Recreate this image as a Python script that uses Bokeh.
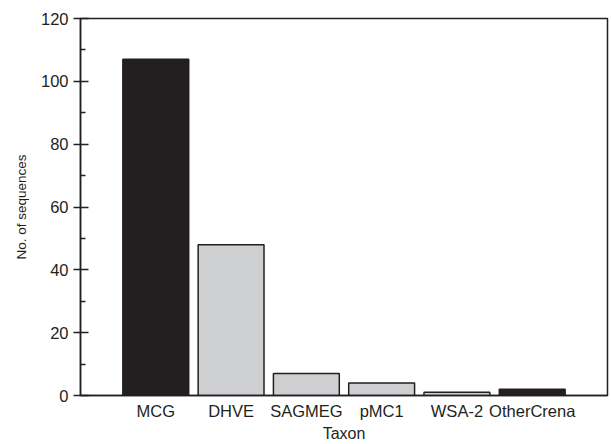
from bokeh.plotting import figure
from bokeh.models import Range1d, FixedTicker, ColumnDataSource
from bokeh.embed import file_html
from bokeh.resources import INLINE

taxa = ["MCG", "DHVE", "SAGMEG", "pMC1", "WSA-2", "OtherCrena"]
counts = [107, 48, 7, 4, 1, 2]
bar_colors = ["#231f20", "#cdcfd0", "#cdcfd0", "#cdcfd0", "#cdcfd0", "#231f20"]
y_ticks = [0, 20, 40, 60, 80, 100, 120]
y_minor = [10, 30, 50, 70, 90, 110]

pos = list(range(1, len(taxa) + 1))
src = ColumnDataSource(dict(x=pos, top=counts, color=bar_colors))

p = figure(width=611, height=444, output_backend="svg", toolbar_location=None,
           x_range=Range1d(0, len(taxa) + 1), y_range=Range1d(0, 120),
           min_border_left=80, min_border_right=4, min_border_top=18, min_border_bottom=46)

p.vbar(x="x", top="top", bottom=0, width=0.875, fill_color="color",
       line_color="#231f20", line_width=1.5, source=src)

p.xgrid.visible = False
p.ygrid.visible = False
p.outline_line_color = "#231f20"
p.outline_line_width = 1.5
p.outline_line_alpha = 1.0
p.background_fill_color = "white"
p.border_fill_color = "white"

font = "Liberation Sans"

# y axis
ya = p.yaxis[0]
ya.ticker = FixedTicker(ticks=y_ticks, minor_ticks=y_minor)
ya.major_tick_in = 8
ya.major_tick_out = 7
ya.minor_tick_in = 5
ya.minor_tick_out = 0
ya.axis_line_width = 1.5
ya.axis_line_color = "#231f20"
ya.major_tick_line_color = "#231f20"
ya.major_tick_line_width = 1.5
ya.minor_tick_line_color = "#231f20"
ya.minor_tick_line_width = 1.5
ya.major_label_text_font = font
ya.major_label_text_font_size = "16.5px"
ya.major_label_text_color = "#231f20"
ya.major_label_standoff = 5
ya.axis_label = "No. of sequences"
ya.axis_label_text_font = font
ya.axis_label_text_font_size = "13.5px"
ya.axis_label_text_font_style = "normal"
ya.axis_label_text_color = "#231f20"
ya.axis_label_standoff = 9

# x axis
xa = p.xaxis[0]
xa.ticker = FixedTicker(ticks=pos, minor_ticks=[])
xa.major_label_overrides = {i: t for i, t in zip(pos, taxa)}
xa.major_tick_in = 0
xa.major_tick_out = 0
xa.minor_tick_in = 0
xa.minor_tick_out = 0
xa.axis_line_width = 1.5
xa.axis_line_color = "#231f20"
xa.major_label_text_font = font
xa.major_label_text_font_size = "16.5px"
xa.major_label_text_color = "#231f20"
xa.major_label_standoff = 6
xa.axis_label = "Taxon"
xa.axis_label_text_font = font
xa.axis_label_text_font_size = "16px"
xa.axis_label_text_font_style = "normal"
xa.axis_label_text_color = "#231f20"
xa.axis_label_standoff = 2

open("out.html", "w").write(file_html(p, INLINE))
